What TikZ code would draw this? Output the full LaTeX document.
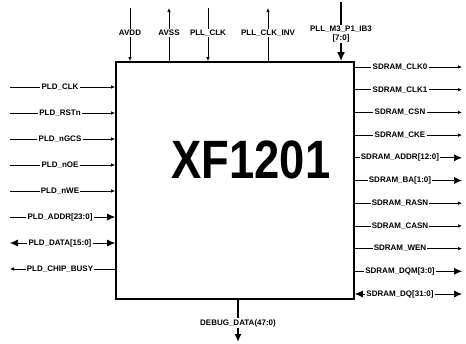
\documentclass[tikz,border=0pt]{standalone}
\usepackage{graphicx}
\usepackage{fontspec}
\setmainfont{Liberation Sans}
\usetikzlibrary{arrows.meta}

\begin{document}
\begin{tikzpicture}[
    x=1pt, y=1pt,
    chip/.style={
        rectangle, draw, line width=1.8pt,
        minimum width=238pt, minimum height=237pt, inner sep=0pt
    },
    pin/.style={font=\fontsize{8}{9}\selectfont\bfseries, inner sep=1pt, align=center},
    wire/.style={line width=0.7pt},
    arr/.style={wire, -{Latex[length=4pt, width=3.5pt]}},
    rarr/.style={wire, {Latex[length=4pt, width=3.5pt]}-},
    busarr/.style={wire, -{Latex[length=8pt, width=7pt]}},
    busrarr/.style={wire, {Latex[length=8pt, width=7pt]}-},
    buswire/.style={line width=1.6pt}
]
\useasboundingbox (0,0) rectangle (466,-343);

\node[chip] (chip) at (235,-180.5) {};
\node[font=\fontsize{54}{54}\selectfont\bfseries] (title) at (251,-160)
    {\scalebox{0.84}[1]{XF1201}};

% left side
\foreach \t/\y/\a/\b [count=\i] in {
    PLD\_CLK/87/wire/arr,
    PLD\_RSTn/113/wire/arr,
    PLD\_nGCS/139/wire/arr,
    PLD\_nOE/165/wire/arr,
    PLD\_nWE/191/wire/arr,
    PLD\_ADDR[23:0]/217/wire/busarr,
    PLD\_DATA[15:0]/243/busrarr/busarr,
    PLD\_CHIP\_BUSY/269/rarr/wire}
{
    \coordinate (lo\i) at (10,-\y);
    \node[pin] (l\i) at (60,-\y) {\t};
    \draw[\a] (lo\i) -- (l\i);
    \draw[\b] (l\i) -- (l\i -| chip.west);
}

% right side
\foreach \t/\y/\a/\b [count=\i] in {
    SDRAM\_CLK0/67/arr/wire,
    SDRAM\_CLK1/89.7/arr/wire,
    SDRAM\_CSN/112.4/arr/wire,
    SDRAM\_CKE/135.1/arr/wire,
    SDRAM\_ADDR[12:0]/157.8/busarr/wire,
    SDRAM\_BA[1:0]/180.5/busarr/wire,
    SDRAM\_RASN/203.2/arr/wire,
    SDRAM\_CASN/225.9/arr/wire,
    SDRAM\_WEN/248.6/arr/wire,
    SDRAM\_DQM[3:0]/271.3/busarr/wire,
    SDRAM\_DQ[31:0]/294/busarr/busrarr}
{
    \coordinate (ro\i) at (462,-\y);
    \node[pin] (r\i) at (400,-\y) {\t};
    \draw[\a] (r\i) -- (ro\i);
    \draw[\b] (r\i -| chip.east) -- (r\i);
}

% top side
\foreach \t/\x/\a/\b [count=\i] in {
    AVDD/130/wire/arr,
    AVSS/169/rarr/wire,
    PLL\_CLK/208/wire/arr,
    PLL\_CLK\_INV/268/rarr/wire}
{
    \coordinate (to\i) at (\x,-8);
    \node[pin] (t\i) at (\x,-33) {\t};
    \draw[\a] (to\i) -- (t\i);
    \draw[\b] (t\i) -- (t\i |- chip.north);
}
\coordinate (pllo) at (341,-2);
\node[pin] (pll) at (341,-34) {PLL\_M3\_P1\_IB3\\{}[7:0]};
\draw[buswire] (pllo) -- (pll);
\draw[buswire, -{Latex[length=9pt, width=8pt]}] (pll) -- (pll |- chip.north);

% bottom side
\node[pin] (dbg) at (238,-323) {DEBUG\_DATA(47:0)};
\coordinate (dbgo) at (238,-342);
\draw[buswire] (dbg |- chip.south) -- (dbg);
\draw[buswire, -{Latex[length=8pt, width=7pt]}] (dbg) -- (dbgo);

\end{tikzpicture}
\end{document}
